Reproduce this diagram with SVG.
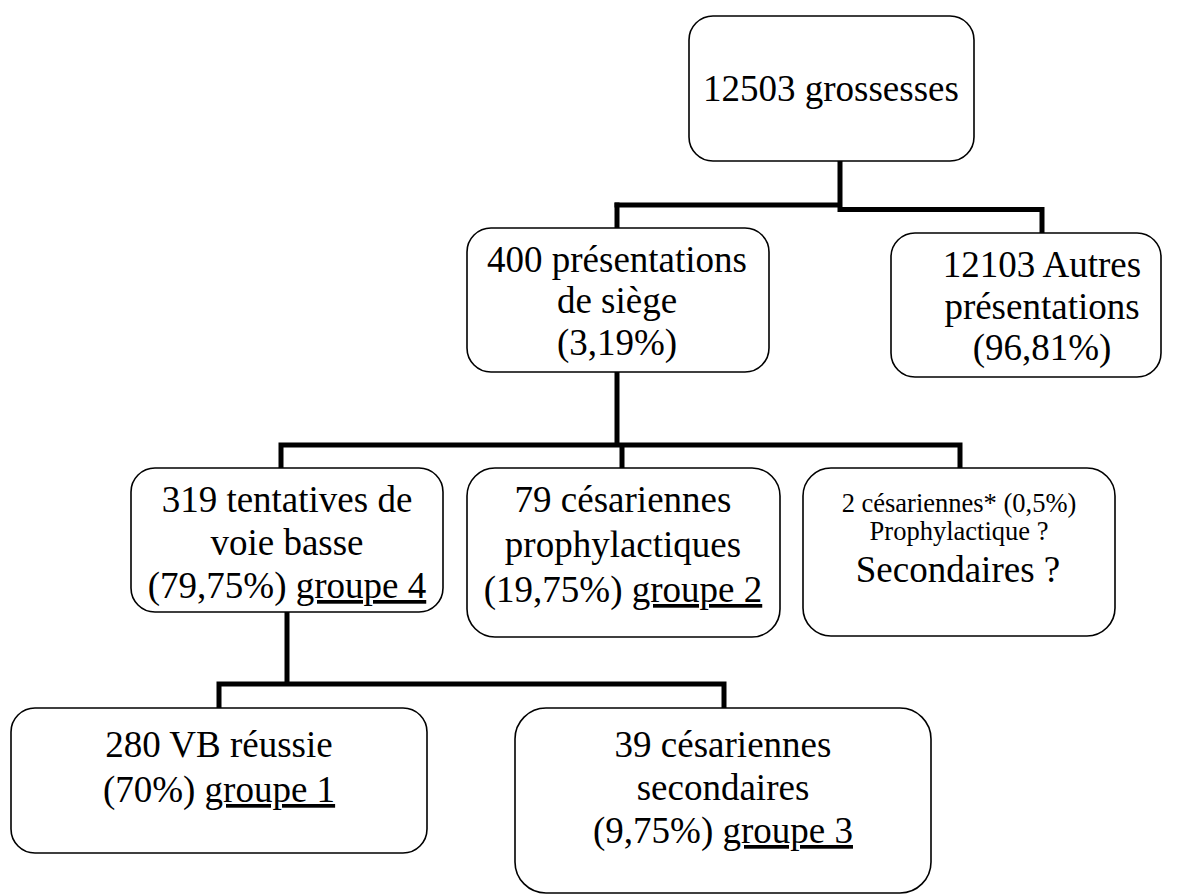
<svg xmlns="http://www.w3.org/2000/svg" width="1179" height="895" viewBox="0 0 1179 895">
<style>
.box{fill:#fff;stroke:#000;stroke-width:1.6}
.t{font-family:"Liberation Serif","Times New Roman",serif;font-size:37px;fill:#000;text-anchor:middle}
.s{font-size:26.5px}
.u{text-decoration:underline}
.c{fill:none;stroke:#000;stroke-width:5;stroke-linecap:square}
</style>
<rect width="1179" height="895" fill="#fff"/>
<g id="connectors">
<path class="c" d="M840,162 V207 M617,205 H840 M840,209.5 H1042 V232"/>
<path class="c" d="M617,205 V227"/>
<path class="c" d="M617,373 V445 M281,445 H960 M281,445 V467 M622,445 V467 M960,445 V467"/>
<path class="c" d="M287,613 V684 M219,684 H724 M219,684 V707 M724,684 V707"/>
</g>
<g id="n-grossesses">
<rect class="box" x="689" y="16" width="285" height="145" rx="24"/>
<text class="t" x="703" y="101" style="text-anchor:start">12503 grossesses</text>
</g>
<g id="n-siege">
<rect class="box" x="467" y="228" width="302" height="144" rx="24"/>
<text class="t" x="617" y="272">400 présentations</text>
<text class="t" x="617" y="313">de siège</text>
<text class="t" x="617" y="355">(3,19%)</text>
</g>
<g id="n-autres">
<rect class="box" x="891" y="233" width="270" height="144" rx="24"/>
<text class="t" x="1042" y="277">12103 Autres</text>
<text class="t" x="1042" y="319">présentations</text>
<text class="t" x="1042" y="360">(96,81%)</text>
</g>
<g id="n-tentatives">
<rect class="box" x="131" y="468" width="312" height="144" rx="24"/>
<text class="t" x="287" y="512">319 tentatives de</text>
<text class="t" x="287" y="555">voie basse</text>
<text class="t" x="287" y="598">(79,75%) <tspan class="u">groupe 4</tspan></text>
</g>
<g id="n-prophylactiques">
<rect class="box" x="467" y="468" width="313" height="169" rx="28"/>
<text class="t" x="623" y="512">79 césariennes</text>
<text class="t" x="623" y="557">prophylactiques</text>
<text class="t" x="623" y="602">(19,75%) <tspan class="u">groupe 2</tspan></text>
</g>
<g id="n-deux">
<rect class="box" x="803" y="468" width="312" height="168" rx="28"/>
<text class="t s" x="959" y="512">2 césariennes* (0,5%)</text>
<text class="t s" x="959" y="540">Prophylactique ?</text>
<text class="t" x="958" y="582">Secondaires ?</text>
</g>
<g id="n-reussie">
<rect class="box" x="11" y="708" width="416" height="145" rx="24"/>
<text class="t" x="219" y="757">280 VB réussie</text>
<text class="t" x="219" y="802">(70%) <tspan class="u">groupe 1</tspan></text>
</g>
<g id="n-secondaires">
<rect class="box" x="515" y="708" width="416" height="185" rx="31"/>
<text class="t" x="723" y="757">39 césariennes</text>
<text class="t" x="723" y="800">secondaires</text>
<text class="t" x="723" y="843">(9,75%) <tspan class="u">groupe 3</tspan></text>
</g>
</svg>
